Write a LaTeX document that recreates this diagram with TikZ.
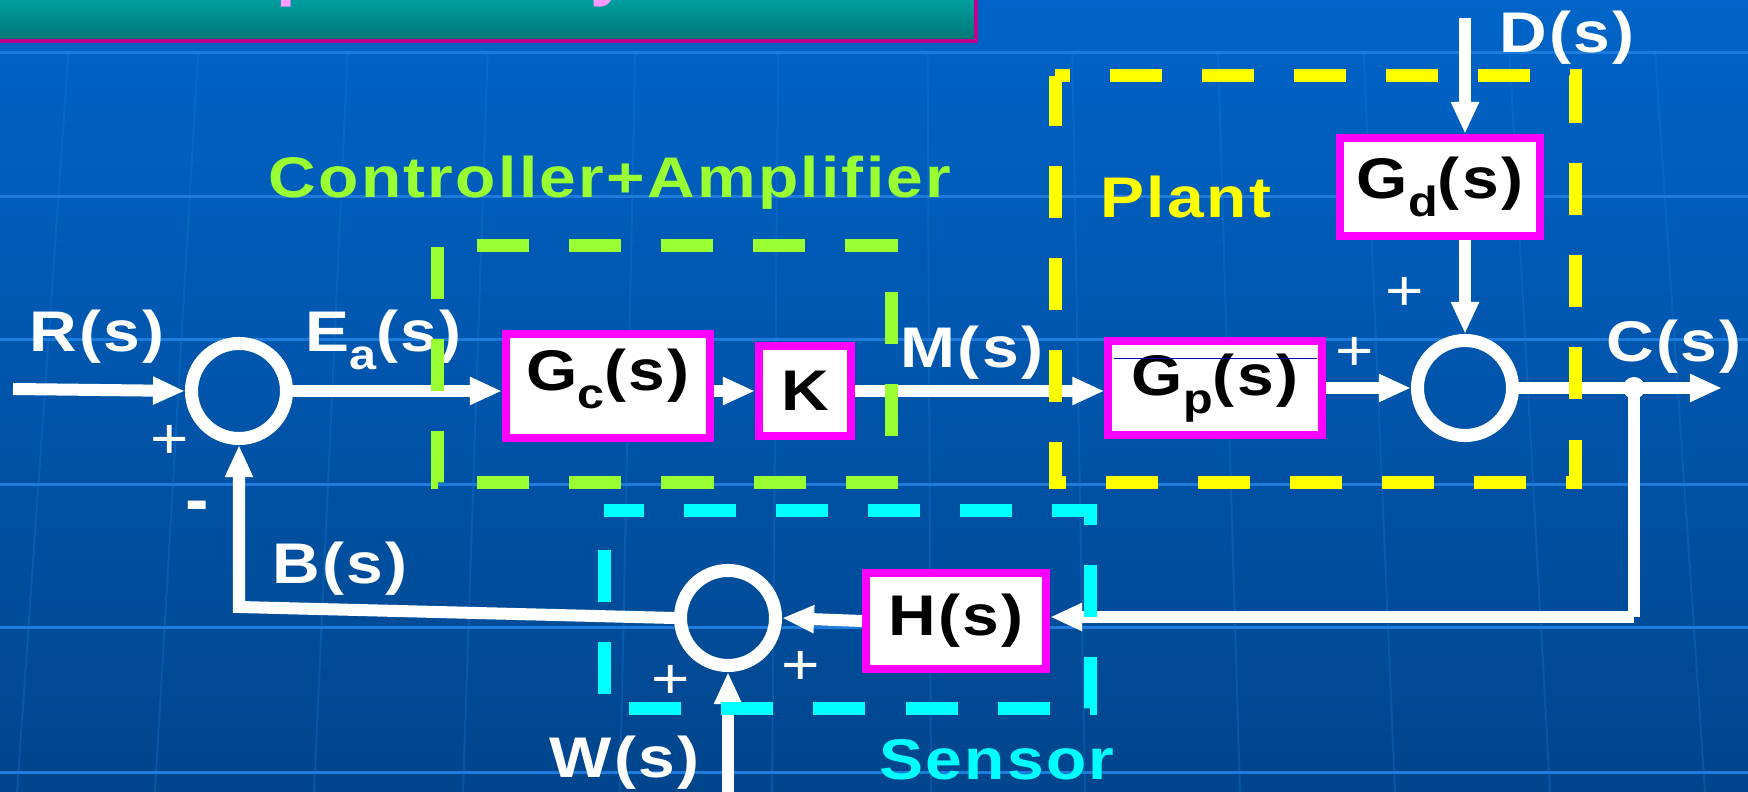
\documentclass[tikz,border=0pt]{standalone}
\usepackage{fontspec}
\setmainfont{Liberation Sans}
\newfontfamily\labfont{Liberation Sans}[FakeStretch=1.15, LetterSpace=4]
\usetikzlibrary{arrows.meta}
\definecolor{bgtop}{HTML}{0064C8}
\definecolor{bgbot}{HTML}{00458C}
\definecolor{gridc}{HTML}{1C7BDB}
\definecolor{limec}{HTML}{99FF33}
\definecolor{yelc}{HTML}{FFFF00}
\definecolor{cyac}{HTML}{00FFFF}
\definecolor{magc}{HTML}{FF00FF}
\definecolor{teala}{HTML}{00A8A8}
\definecolor{tealb}{HTML}{007575}
\definecolor{tbord}{HTML}{C0008C}
\definecolor{pinkt}{HTML}{FF99FF}
\newcommand\lsub[1]{\raisebox{-5pt}{\fontsize{12}{12}\selectfont #1}}
\newcommand\labsz{\labfont\bfseries\fontsize{16.3}{19}\selectfont}
\begin{document}
\begin{tikzpicture}[x=0.01cm,y=-0.01cm,
  arr/.style={draw=white, line width=0.12cm, -{Triangle[length=0.32cm,width=0.26cm]}},
  ln/.style={draw=white, line width=0.12cm},
  sumc/.style={circle, draw=white, line width=0.13cm, minimum size=0.95cm, inner sep=0pt},
  blk/.style={rectangle, draw=magc, fill=white, line width=0.08cm, inner sep=0pt, font=\labsz, text=black},
  lab/.style={anchor=base west, inner sep=0pt, font=\labsz, text=white},
  pls/.style={inner sep=0pt, font=\labfont\fontsize{16.3}{19}\selectfont, text=white},
  dbox/.style={line width=0.13cm, dash pattern=on 0.52cm off 0.40cm},
  dotn/.style={circle, fill=white, minimum size=0.22cm, inner sep=0pt}
]
\useasboundingbox (0,0) rectangle (1748,792);
\clip (0,0) rectangle (1748,792);
% background
\shade[top color=bgtop, bottom color=bgbot] (0,0) rectangle (1748,792);
\foreach \yy in {53,197,340,485,628,773}
  \draw[gridc, line width=0.03cm] (0,\yy) -- (1748,\yy);
\foreach \xb in {17,155,314,463,620,772,931,1085,1240,1395,1550,1705}
  \draw[gridc, opacity=0.3, line width=0.02cm] ({\xb+(874-\xb)*0.06},53) -- (\xb,792);
% title bar
\shade[top color=teala, bottom color=tealb] (-10,-10) rectangle (976,41);
\draw[tbord, line width=0.045cm] (-10,41) -- (976,41) -- (976,-10);
\node[anchor=base west, inner sep=0pt, font=\bfseries\fontsize{20}{24}\selectfont, text=pinkt] (tp) at (276,-7) {p};
\node[anchor=base west, inner sep=0pt, font=\bfseries\fontsize{20}{24}\selectfont, text=pinkt] (ty) at (590,-7) {y};
% labels
\node[lab] (lr) at (29,352) {R(s)};
\node[lab] (lea) at (305,352) {E\lsub{a}(s)};
\node[lab] (lb) at (272,584) {B(s)};
\node[lab] (lm) at (900,368) {M(s)};
\node[lab] (lc) at (1606,362) {C(s)};
\node[lab] (ld) at (1499,53) {D(s)};
\node[lab] (lw) at (549,778) {W(s)};
\node[lab, text=limec] (lctrl) at (268,198) {Controller+Amplifier};
\node[lab, text=yelc] (lplant) at (1100,218) {Plant};
\node[lab, text=cyac] (lsens) at (879,780) {Sensor};
\node[pls] (p1) at (170,442) {+};
\node[pls, font=\bfseries\fontsize{20}{20}\selectfont] (m1) at (197,512) {-};
\node[pls] (p2) at (1355,354) {+};
\node[pls] (p3) at (1405,294) {+};
\node[pls] (p4) at (671,682) {+};
\node[pls] (p5) at (801,668) {+};
% nodes
\node[sumc] (s1) at (239,391) {};
\node[sumc] (s2) at (1465,388) {};
\node[sumc] (s3) at (728,618) {};
\node[blk, minimum width=2.04cm, minimum height=1.04cm, text depth=0.32cm] (gc) at (608,386) {G\lsub{c}(s)};
\node[blk, minimum width=0.92cm, minimum height=0.90cm] (k) at (805,391) {K};
\node[blk, minimum width=2.13cm, minimum height=0.94cm] (gp) at (1215,388) {G\lsub{p}(s)};
\node[blk, minimum width=2.00cm, minimum height=0.98cm] (gd) at (1440,187) {G\lsub{d}(s)};
\node[blk, minimum width=1.80cm, minimum height=0.96cm] (h) at (956,621) {H(s)};
\draw[blue!70!black, line width=0.008cm] (1114,358) -- (1317,358);
\node[dotn] (br) at (1634,388) {};
\coordinate (rin) at (13,389);
\coordinate (cout) at (1722,388);
\coordinate (fb) at (1634,617);
\coordinate (bl) at (239,607);
\coordinate (win) at (728,800);
\coordinate (din) at (1465,18);
% connectors
\draw[arr] (rin) -- (s1.west);
\draw[arr] (s1.east) -- (gc.west |- s1.east);
\draw[arr] (gc.east |- k.west) -- (k.west);
\draw[arr] (k.east) -- (gp.west |- k.east);
\draw[arr] (gp.east) -- (s2.west);
\draw[arr] (s2.east) -- (cout);
\draw[ln] (br.center) -- (fb);
\draw[arr] (fb) -- (fb -| h.east);
\draw[arr] (h.west) -- (s3.east);
\draw[arr] (s3.west) -- (bl) -- (s1.south);
\draw[arr] (win) -- (s3.south);
\draw[arr] (din) -- (din |- gd.north);
\draw[arr] (gd.south -| s2.north) -- (s2.north);
% dashed boxes
\draw[dbox, draw=limec, dash phase=0.52cm] (437,246) -- (891,246) -- (891,483) -- (437,483) -- cycle;
\draw[dbox, draw=yelc, dash phase=0.37cm] (1055,76) -- (1575,76) -- (1575,483) -- (1055,483) -- cycle;
\draw[dbox, draw=cyac, dash phase=0.12cm] (604,511) -- (1090,511) -- (1090,709) -- (604,709) -- cycle;
\end{tikzpicture}
\end{document}
